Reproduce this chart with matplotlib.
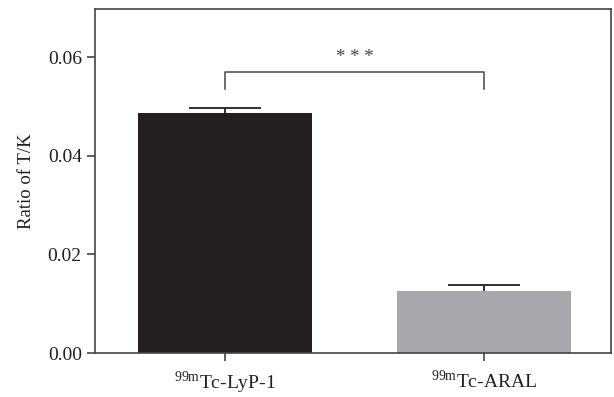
import matplotlib
matplotlib.use("Agg")
import matplotlib.pyplot as plt

plt.rcParams['font.family'] = ['Liberation Serif', 'DejaVu Serif']
plt.rcParams['mathtext.fontset'] = 'custom'
plt.rcParams['mathtext.rm'] = 'Liberation Serif'

labels = ["$^{99\\mathrm{m}}$Tc-LyP-1", "$^{99\\mathrm{m}}$Tc-ARAL"]
values = [0.0487, 0.0126]
errors = [0.0010, 0.0012]
colors = ["#231f20", "#a7a8ab"]

fig = plt.figure(figsize=(6.14, 3.97), dpi=100)
ax = fig.add_axes([95 / 614, 1 - 353 / 397, 516 / 614, 344 / 397])

x = list(range(len(values)))
ax.bar(x, values, width=0.672, color=colors, zorder=2)
tops = [v + e for v, e in zip(values, errors)]
ax.vlines(x, values, tops, color="#231f20", lw=1.3, zorder=3)
ax.hlines(tops, [i - 0.14 for i in x], [i + 0.14 for i in x], color="#231f20", lw=1.3, zorder=3)

# significance bracket
by = 0.0570
ax.plot([0, 0, 1, 1], [0.0535, by, by, 0.0535], color="#555555", lw=1.2)
ax.text(0.5, 0.0600, "* * *", ha="center", va="center", fontsize=13.5, color="#444444")

ax.set_xlim(-0.502, 1.49)
ax.set_ylim(0, 0.0698)
ax.set_yticks([0, 0.02, 0.04, 0.06])
ax.set_yticklabels(["0.00", "0.02", "0.04", "0.06"])
ax.set_xticks(x)
ax.set_xticklabels(labels)
ax.set_ylabel("Ratio of T/K", fontsize=13.5, color="#231f20", labelpad=9)

for s in ax.spines.values():
    s.set_color("#444444")
    s.set_linewidth(1.2)
ax.tick_params(axis="both", colors="#444444", labelcolor="#231f20", labelsize=14,
               length=6, width=1.2)
ax.tick_params(axis="x", labelsize=14, pad=6)

fig.savefig("out.png", dpi=100)
